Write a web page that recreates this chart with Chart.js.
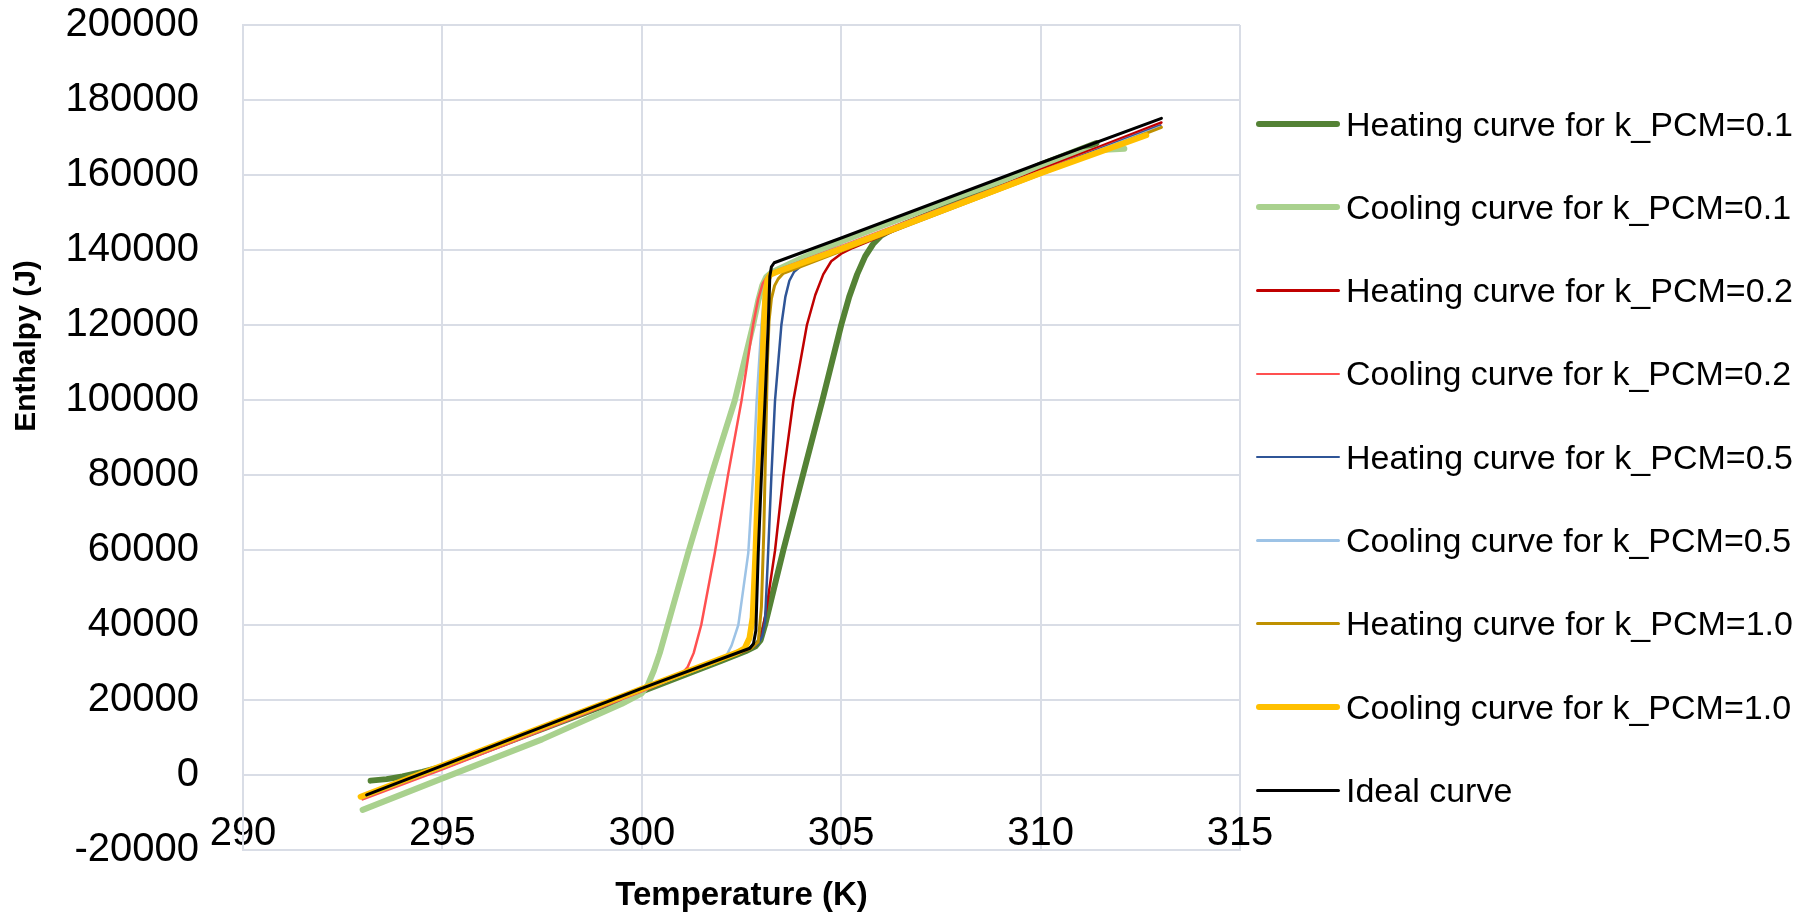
<!DOCTYPE html>
<html>
<head>
<meta charset="utf-8">
<script src="https://cdn.jsdelivr.net/npm/chart.js@4.4.1/dist/chart.umd.min.js"></script>
<style>
    body { margin: 0; background: #fff; }
    #wrap { position: relative; width: 1806px; height: 916px; }
    #leyenda { position: absolute; left: 1256px; top: 0; font-family: 'Liberation Sans', Arial, sans-serif; font-size: 34px; color: #000; }
    .item { position: absolute; left: 0; height: 40px; display: flex; align-items: center; white-space: nowrap; }
    .item .linea { display: inline-block; width: 84px; margin-right: 6px; border-radius: 3px; }
</style>
</head>
<body>
<div id="wrap">
    <canvas id="myChart" width="1806" height="916"></canvas>
    <div id="leyenda"></div>
</div>
<script>
// temperatura (K) y entalpia (J)
const heat01T = [293.2, 293.6, 294.0, 294.5, 295.0, 300.0, 302.0, 302.6, 302.85, 302.98, 303.09, 303.55, 304.04, 304.53, 305.0, 305.2, 305.4, 305.6, 305.8, 306.0, 306.3, 306.6, 308.0, 310.0, 311.4];
const heat01H = [-1500, -1100, -400, 800, 2200, 22300, 30500, 33000, 34300, 36000, 40000, 60000, 80000, 100000, 120000, 127500, 133500, 138300, 141600, 143800, 145600, 147000, 153000, 162800, 168500];

const cool01T = [293.0, 295.0, 297.5, 299.5, 300.0, 300.15, 300.3, 300.45, 300.65, 301.16, 301.74, 302.33, 302.79, 302.92, 303.02, 303.12, 303.25, 304.0, 305.0, 308.0, 311.0, 311.3, 311.6, 312.1];
const cool01H = [-9300, -900, 9500, 19000, 21800, 24000, 27800, 32500, 40000, 59200, 79900, 99800, 120000, 126500, 130500, 132800, 134000, 137800, 142300, 154500, 166000, 166500, 166700, 167000];

const heat02T = [293.0, 295.0, 300.0, 302.6, 302.85, 303.0, 303.12, 303.34, 303.55, 303.8, 304.14, 304.35, 304.55, 304.75, 305.0, 305.3, 310.0, 313.03];
const heat02H = [-6200, 1800, 22600, 33100, 34500, 37000, 44000, 59800, 79900, 99800, 120000, 128000, 133500, 137000, 139000, 140600, 161400, 174000];

const cool02T = [293.0, 295.0, 300.0, 300.8, 301.0, 301.15, 301.3, 301.49, 301.83, 302.16, 302.5, 302.79, 302.92, 303.03, 303.15, 303.3, 305.0, 310.0, 313.0];
const cool02H = [-6500, 1500, 22300, 25800, 27000, 28800, 32500, 40000, 59200, 79900, 99800, 120000, 127000, 131000, 133000, 134200, 141000, 161000, 173300];

const heat05T = [293.0, 295.0, 300.0, 302.7, 302.9, 303.02, 303.09, 303.17, 303.25, 303.34, 303.5, 303.6, 303.7, 303.82, 304.0, 304.3, 310.0, 313.0];
const heat05H = [-6000, 2000, 22700, 33600, 34800, 37000, 41000, 59800, 79900, 99800, 120000, 127500, 131800, 134200, 135800, 137000, 160800, 173200];

const cool05T = [293.0, 295.0, 300.0, 301.8, 302.0, 302.12, 302.25, 302.42, 302.67, 302.79, 302.88, 303.0, 303.07, 303.14, 303.25, 303.4, 310.0, 313.0];
const cool05H = [-6000, 2000, 22600, 29800, 30700, 31800, 34500, 40000, 59200, 79900, 99800, 120000, 128000, 132000, 133800, 134500, 160700, 172800];

const heat10T = [293.0, 295.0, 300.0, 302.75, 302.92, 303.0, 303.06, 303.11, 303.15, 303.19, 303.25, 303.33, 303.42, 303.55, 310.0, 313.03];
const heat10H = [-5800, 2200, 22800, 33800, 35500, 45000, 65000, 90000, 110000, 121000, 127000, 130500, 132300, 133800, 160200, 172700];

const cool10T = [292.95, 295.0, 300.0, 302.4, 302.58, 302.7, 302.78, 302.85, 302.92, 302.99, 303.06, 303.1, 303.15, 303.22, 303.35, 305.0, 310.0, 312.65];
const cool10H = [-5800, 2500, 23000, 32700, 33800, 36500, 42000, 59200, 79900, 99800, 120000, 128000, 132000, 133400, 134000, 140300, 160500, 170600];

const idealT = [293.1, 295.0, 300.0, 302.71, 302.8, 302.86, 302.92, 303.0, 303.09, 303.17, 303.21, 303.25, 303.32, 305.0, 310.0, 313.03];
const idealH = [-5300, 2500, 23100, 33800, 35000, 38500, 59200, 79900, 99800, 120000, 133000, 135500, 136600, 143200, 163200, 175100];

const etiquetas = [
    'Heating curve for k_PCM=0.1', 'Cooling curve for k_PCM=0.1',
    'Heating curve for k_PCM=0.2', 'Cooling curve for k_PCM=0.2',
    'Heating curve for k_PCM=0.5', 'Cooling curve for k_PCM=0.5',
    'Heating curve for k_PCM=1.0', 'Cooling curve for k_PCM=1.0',
    'Ideal curve'
];
const colores = ['#548235', '#a9d18e', '#c00000', '#ff5050', '#2f5597', '#9dc3e6', '#bf9000', '#ffc000', '#000000'];
const grosores = [6, 6, 2.5, 2.5, 2.5, 2.5, 3, 6, 3];
const series = [
    [heat01T, heat01H], [cool01T, cool01H], [heat02T, heat02H], [cool02T, cool02H],
    [heat05T, heat05H], [cool05T, cool05H], [heat10T, heat10H], [cool10T, cool10H], [idealT, idealH]
];

const ticksX = [290, 295, 300, 305, 310, 315];
const ticksY = [-20000, 0, 20000, 40000, 60000, 80000, 100000, 120000, 140000, 160000, 180000, 200000];

const colorGrilla = '#d9dde6';
const fuente = "'Liberation Sans', Arial, sans-serif";

const datasets = series.map((s, i) => {
    return {
        label: etiquetas[i],
        data: s[0].map((t, j) => ({ x: t, y: s[1][j] })),
        borderColor: colores[i],
        backgroundColor: colores[i],
        borderWidth: grosores[i],
        showLine: true,
        pointRadius: 0,
        tension: 0,
        borderCapStyle: 'round',
        borderJoinStyle: 'round',
        order: -i
    };
});

// titulo del eje Y (Excel lo deja algo por encima del centro)
const tituloY = {
    id: 'tituloY',
    afterDraw(chart) {
        const ctx = chart.ctx;
        ctx.save();
        ctx.translate(27, 346);
        ctx.rotate(-Math.PI / 2);
        ctx.font = 'bold 30px ' + fuente;
        ctx.fillStyle = '#000';
        ctx.textAlign = 'center';
        ctx.textBaseline = 'middle';
        ctx.fillText('Enthalpy (J)', 0, 0);
        ctx.restore();
    }
};

const myChart = new Chart(document.querySelector('#myChart'), {
    type: 'scatter',
    data: { datasets },
    options: {
        responsive: false,
        animation: false,
        layout: { padding: { top: 25, right: 566, left: 0, bottom: 0 } },
        plugins: { legend: { display: false }, tooltip: { enabled: false } },
        scales: {
            x: {
                type: 'linear',
                min: 290,
                max: 315,
                afterBuildTicks: (scale) => { scale.ticks = ticksX.map(v => ({ value: v })); },
                afterFit: (scale) => { scale.height = 66; },
                grid: { color: colorGrilla, lineWidth: 2, drawTicks: false },
                border: { color: colorGrilla, width: 2 },
                // las etiquetas del eje X quedan dentro del area, como en Excel
                ticks: { color: '#000', font: { family: fuente, size: 40 }, mirror: true, padding: -8, maxRotation: 0, autoSkip: false, callback: v => String(v) },
                title: { display: true, text: 'Temperature (K)', color: '#000', font: { family: fuente, size: 33, weight: 'bold' }, padding: { top: 0, bottom: 0 } }
            },
            y: {
                type: 'linear',
                min: -20000,
                max: 200000,
                afterBuildTicks: (scale) => { scale.ticks = ticksY.map(v => ({ value: v })); },
                afterFit: (scale) => {
                    scale.width = 243;
                    scale.paddingTop = 0;
                    scale.paddingBottom = 0;
                },
                grid: { color: colorGrilla, lineWidth: 2, drawTicks: false },
                border: { color: colorGrilla, width: 2 },
                ticks: { color: '#000', font: { family: fuente, size: 40 }, padding: 44, autoSkip: false, callback: v => String(v) }
            }
        }
    },
    plugins: [tituloY]
});

// leyenda a la derecha
const leyenda = document.querySelector('#leyenda');
etiquetas.forEach((texto, i) => {
    const item = document.createElement('div');
    item.className = 'item';
    item.style.top = (124 + i * 83.3 - 20) + 'px';
    const linea = document.createElement('span');
    linea.className = 'linea';
    linea.style.height = grosores[i] + 'px';
    linea.style.background = colores[i];
    item.appendChild(linea);
    item.appendChild(document.createTextNode(texto));
    leyenda.appendChild(item);
});
</script>
</body>
</html>
